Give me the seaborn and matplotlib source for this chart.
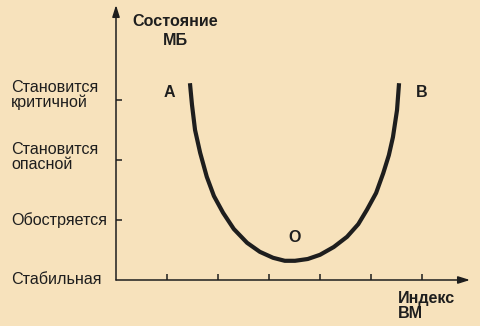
import matplotlib
matplotlib.use("Agg")
import matplotlib.pyplot as plt
import matplotlib.transforms as mtransforms
import seaborn as sns
import pandas as pd

# --- data ---
curve_x = [1.45, 1.49, 1.55, 1.65, 1.78, 1.92, 2.10, 2.31, 2.57, 2.82, 3.08, 3.31, 3.51,
           3.76, 4.00, 4.27, 4.53, 4.75, 4.92, 5.10, 5.24, 5.35, 5.43, 5.51, 5.55]
curve_y = [3.28, 2.92, 2.50, 2.12, 1.72, 1.40, 1.12, 0.85, 0.62, 0.47, 0.37, 0.32, 0.32,
           0.35, 0.42, 0.55, 0.72, 0.93, 1.17, 1.45, 1.78, 2.08, 2.38, 2.83, 3.28]
y_levels = [0, 1, 2, 3]
y_labels = ["Стабильная", "Обостряется", "Становится\nопасной", "Становится\nкритичной"]
x_ticks = [1, 2, 3, 4, 5, 6]
point_labels = ["A", "B", "O"]
point_pos = [(1.05, 3.12), (6.0, 3.12), (3.5, 0.7)]
y_title = "Состояние\nМБ"
x_title = "Индекс\nВМ"

bg = "#F7E2BC"
ink = "#1E1E1E"

sns.set_style("white")
plt.rcParams["font.family"] = ["Liberation Sans", "DejaVu Sans"]

fig = plt.figure(figsize=(4.8, 3.26), dpi=100, facecolor=bg)
ax = fig.add_axes([116/480, 46/326, (470-116)/480, (280-5)/326])
ax.set_facecolor(bg)
xmax = (470-116)/51
ymax = (280-5)/60
ax.set_xlim(0, xmax)
ax.set_ylim(0, ymax)

df = pd.DataFrame({"x": curve_x, "y": curve_y})
sns.lineplot(data=df, x="x", y="y", sort=False, estimator=None, color=ink,
             linewidth=3.0, solid_capstyle="butt", ax=ax)

for s in ax.spines.values():
    s.set_visible(False)

# axes arrows
arrow = dict(arrowstyle="-|>,head_length=0.7,head_width=0.22", color=ink, lw=1.1,
             shrinkA=0, shrinkB=0)
ax.annotate("", xy=(xmax, 0), xytext=(0, 0), arrowprops=arrow, annotation_clip=False)
ax.annotate("", xy=(0, ymax), xytext=(0, 0), arrowprops=arrow, annotation_clip=False)

ax.set_xticks(x_ticks)
ax.set_xticklabels([])
ax.set_yticks([v for v in y_levels if v > 0])
ax.set_yticklabels([])
ax.tick_params(bottom=True, left=True, direction="in", length=4.5, width=1.1, color=ink)
ax.set_xlabel("")
ax.set_ylabel("")

# y level labels, left aligned at x=12px
trans = mtransforms.blended_transform_factory(fig.transFigure, ax.transData)
offsets = {0: 0.0, 1: 0.0, 2: 0.05, 3: 0.08}
for v, lab in zip(y_levels, y_labels):
    ax.text(11/480, v + offsets[v], lab, transform=trans, ha="left", va="center",
            fontsize=11.6, color=ink, linespacing=0.95)

for lab, (px, py) in zip(point_labels, point_pos):
    ax.text(px, py, lab, ha="center", va="center", fontsize=11.5,
            fontweight="bold", color=ink)

fig.text(175/480, 1 - 31/326, y_title, ha="center", va="center", fontsize=11.6,
         fontweight="bold", color=ink, linespacing=1.3)
fig.text(398/480, 1 - 306/326, x_title, ha="left", va="center", fontsize=11.6,
         fontweight="bold", color=ink, linespacing=1.0)

fig.savefig("out.png", dpi=100, facecolor=bg)
